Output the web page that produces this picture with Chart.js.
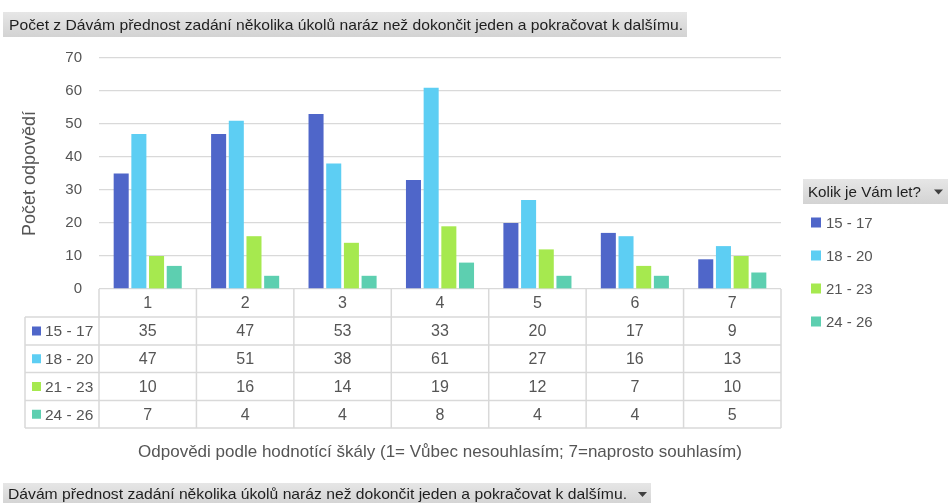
<!DOCTYPE html>
<html><head><meta charset="utf-8">
<script src="https://cdn.jsdelivr.net/npm/chart.js@4.4.1/dist/chart.umd.min.js"></script>
<style>html,body{margin:0;padding:0;background:#fff}#wrap{width:948px;height:503px;position:relative}</style>
</head><body><div id="wrap"><canvas id="c" width="948" height="503"></canvas></div>
<script>
const categories = ['1','2','3','4','5','6','7'];
const seriesNames = ['15 - 17','18 - 20','21 - 23','24 - 26'];
const s15_17 = [35,47,53,33,20,17,9];
const s18_20 = [47,51,38,61,27,16,13];
const s21_23 = [10,16,14,19,12,7,10];
const s24_26 = [7,4,4,8,4,4,5];
const yTickValues = [0,10,20,30,40,50,60,70];
const chartTitle = 'Počet z Dávám přednost zadání několika úkolů naráz než dokončit jeden a pokračovat k dalšímu.';
const filterLabel = 'Dávám přednost zadání několika úkolů naráz než dokončit jeden a pokračovat k dalšímu.';
const legendTitle = 'Kolik je Vám let?';
const yTitle = 'Počet odpovědí';
const xTitle = 'Odpovědi podle hodnotící škály (1= Vůbec nesouhlasím; 7=naprosto souhlasím)';

const seriesValues = [s15_17, s18_20, s21_23, s24_26];
const colors = ['#4F66C9','#5DCEF3','#A6E94F','#5DCFB0'];
const FONT = '"Liberation Sans", Arial, sans-serif';
const TXT = '#555555';

function drawBox(ctx, x0, y0, x1, y1, text, tx, targetW, arrow) {
  const g = ctx.createLinearGradient(0, y0, 0, y1);
  g.addColorStop(0, '#E6E6E6'); g.addColorStop(1, '#D3D3D3');
  ctx.fillStyle = g;
  ctx.fillRect(x0, y0, x1 - x0, y1 - y0);
  ctx.font = '15px ' + FONT;
  ctx.fillStyle = '#1E1E1E';
  ctx.textBaseline = 'middle';
  ctx.textAlign = 'left';
  const w = ctx.measureText(text).width;
  ctx.save();
  ctx.translate(tx, (y0 + y1) / 2 + 1);
  ctx.scale(targetW / w, 1);
  ctx.fillText(text, 0, 0);
  ctx.restore();
  if (arrow) {
    ctx.fillStyle = '#404040';
    ctx.beginPath();
    ctx.moveTo(arrow, (y0 + y1) / 2 - 2);
    ctx.lineTo(arrow + 9, (y0 + y1) / 2 - 2);
    ctx.lineTo(arrow + 4.5, (y0 + y1) / 2 + 3);
    ctx.closePath();
    ctx.fill();
  }
}

const extras = {
  id: 'extras',
  afterDraw(chart) {
    const ctx = chart.ctx;
    const xs = chart.scales.x;
    const ca = chart.chartArea;
    const n = categories.length;
    const cw = (ca.right - ca.left) / n;
    const rowY = [ca.bottom, ca.bottom + 28, ca.bottom + 56, ca.bottom + 83.5, ca.bottom + 111.5, ca.bottom + 139];
    const tableLeft = 25;
    ctx.save();
    ctx.strokeStyle = '#D9D9D9';
    ctx.lineWidth = 1.5;
    for (let i = 1; i < rowY.length; i++) {
      ctx.beginPath(); ctx.moveTo(tableLeft, rowY[i]); ctx.lineTo(ca.right, rowY[i]); ctx.stroke();
    }
    for (let i = 0; i <= n; i++) {
      const x = ca.left + i * cw;
      ctx.beginPath(); ctx.moveTo(x, rowY[0]); ctx.lineTo(x, rowY[5]); ctx.stroke();
    }
    ctx.beginPath(); ctx.moveTo(tableLeft, rowY[1]); ctx.lineTo(tableLeft, rowY[5]); ctx.stroke();
    ctx.font = '16px ' + FONT;
    ctx.fillStyle = TXT;
    ctx.textBaseline = 'middle';
    ctx.textAlign = 'center';
    categories.forEach((c, i) => {
      const x = xs.getPixelForValue(i);
      ctx.fillText(c, x, (rowY[0] + rowY[1]) / 2 + 1);
      seriesValues.forEach((arr, s) => {
        ctx.fillText(String(arr[i]), x, (rowY[s + 1] + rowY[s + 2]) / 2 + 1);
      });
    });
    ctx.textAlign = 'left';
    ctx.font = '15.5px ' + FONT;
    seriesNames.forEach((name, s) => {
      const yc = (rowY[s + 1] + rowY[s + 2]) / 2;
      ctx.fillStyle = colors[s];
      ctx.fillRect(32, yc - 4.5, 9, 9);
      ctx.fillStyle = TXT;
      ctx.fillText(name, 45, yc + 1);
    });
    drawBox(ctx, 803, 179, 948, 204, legendTitle, 808, 113, 934);
    seriesNames.forEach((name, s) => {
      const yc = 222.5 + s * 33;
      ctx.fillStyle = colors[s];
      ctx.fillRect(811, yc - 5, 10, 10);
      ctx.fillStyle = TXT;
      ctx.font = '15px ' + FONT;
      ctx.textBaseline = 'middle';
      ctx.fillText(name, 826, yc + 1);
    });
    drawBox(ctx, 3, 12, 687, 37, chartTitle, 9, 674, null);
    drawBox(ctx, 3, 483, 651, 505, filterLabel, 8, 619, 638);
    ctx.restore();
  }
};

new Chart(document.getElementById('c'), {
  type: 'bar',
  data: {
    labels: categories,
    datasets: seriesNames.map((name, s) => ({
      label: name,
      data: seriesValues[s],
      backgroundColor: colors[s],
      borderWidth: 0,
      categoryPercentage: 0.726,
      barPercentage: 0.85
    }))
  },
  options: {
    responsive: false,
    animation: false,
    devicePixelRatio: 1,
    layout: { padding: { left: 0, top: 58, right: 167, bottom: 0 } },
    plugins: { legend: { display: false }, tooltip: { enabled: false } },
    scales: {
      x: {
        display: true,
        grid: { display: false, drawTicks: false },
        border: { display: false },
        ticks: { display: false },
        title: { display: true, text: xTitle, color: TXT, font: { family: FONT, size: 17 }, padding: { top: 0, bottom: 40 } },
        afterFit(scale) { scale.height = 214; }
      },
      y: {
        min: 0, max: 70,
        afterBuildTicks(scale) { scale.ticks = yTickValues.map(v => ({ value: v })); },
        grid: { color: '#D9D9D9', lineWidth: 1.3, drawTicks: false },
        border: { display: false },
        ticks: { color: TXT, font: { family: FONT, size: 15 }, padding: 17 },
        title: { display: true, text: yTitle, color: TXT, font: { family: FONT, size: 18 }, padding: { top: 19, bottom: 0 } },
        afterFit(scale) { scale.width = 99; }
      }
    }
  },
  plugins: [extras]
});
</script>
</body></html>
